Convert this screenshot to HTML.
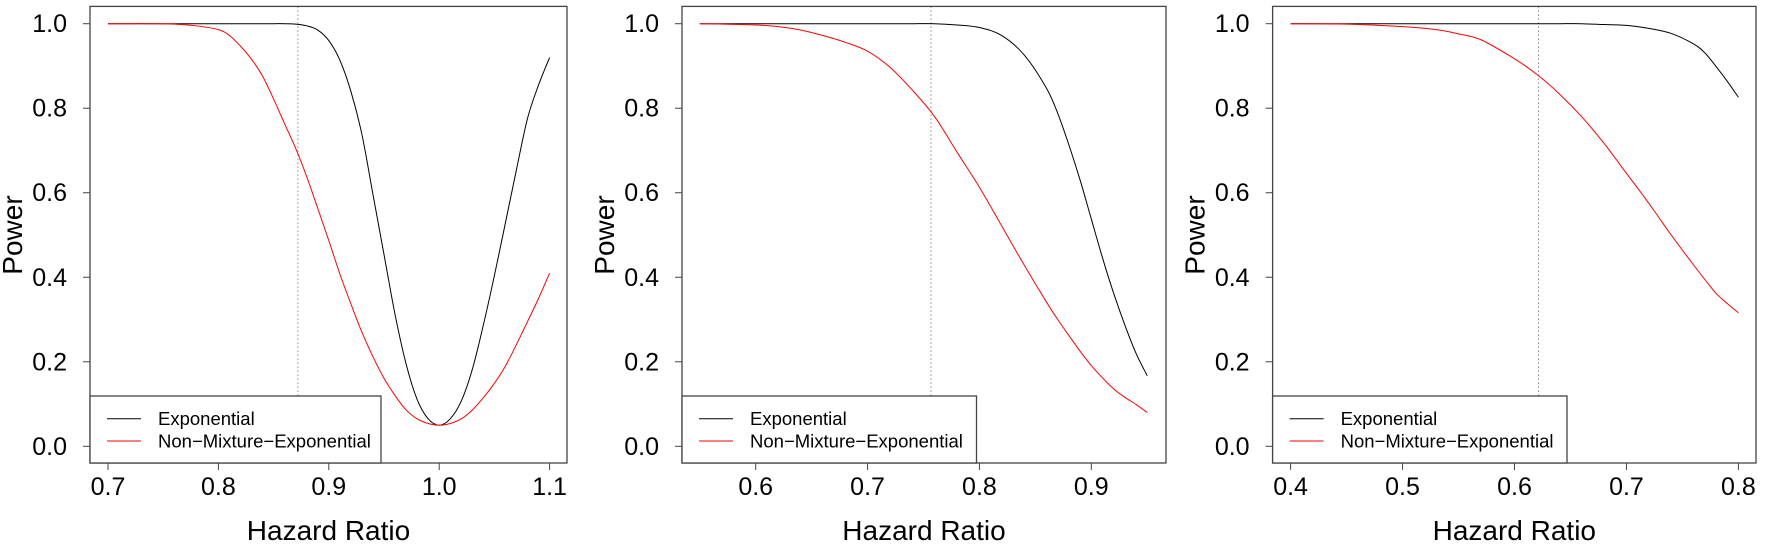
<!DOCTYPE html>
<html><head><meta charset="utf-8"><style>
body{margin:0;background:#fff;}
svg{display:block;font-family:"Liberation Sans",Arial,sans-serif;}
</style></head><body>
<svg id="c" width="1772" height="552" viewBox="0 0 1772 552" xmlns="http://www.w3.org/2000/svg"></svg>
<script>
// Panel 1 data
const p1X = [0.70,0.72,0.74,0.76,0.78,0.80,0.81,0.82,0.83,0.84,0.85,0.86,0.87,0.88,0.89,0.90,0.91,0.92,0.93,0.94,0.95,0.96,0.97,0.98,0.99,1.00,1.01,1.02,1.03,1.04,1.05,1.06,1.07,1.08,1.09,1.10];
const p1Exp = [1,1,1,1,1,1,1,1,1,1,1,1,0.999,0.995,0.985,0.96,0.914,0.84,0.738,0.596,0.454,0.312,0.195,0.111,0.065,0.05,0.065,0.107,0.182,0.287,0.404,0.529,0.655,0.776,0.855,0.92];
const p1Nme = [1,1,1,0.999,0.995,0.986,0.972,0.947,0.916,0.876,0.822,0.763,0.705,0.638,0.563,0.487,0.408,0.337,0.27,0.212,0.161,0.12,0.086,0.065,0.054,0.05,0.054,0.065,0.086,0.115,0.149,0.19,0.241,0.295,0.35,0.41];
const p1Ticks = ["0.7","0.8","0.9","1.0","1.1"];
const p1TickVals = [0.7,0.8,0.9,1.0,1.1];
const p1Ref = 0.872;
// Panel 2 data
const p2X = [0.55,0.60,0.62,0.64,0.66,0.68,0.70,0.72,0.74,0.76,0.78,0.80,0.82,0.84,0.86,0.87,0.88,0.89,0.90,0.91,0.92,0.93,0.94,0.95];
const p2Exp = [1,1,1,1,1,1,1,1,1,1,0.997,0.991,0.972,0.926,0.847,0.788,0.713,0.63,0.538,0.446,0.362,0.287,0.22,0.167];
const p2Nme = [1,0.997,0.993,0.985,0.972,0.956,0.935,0.897,0.843,0.78,0.696,0.613,0.521,0.429,0.341,0.30,0.262,0.225,0.191,0.162,0.136,0.116,0.099,0.08];
const p2Ticks = ["0.6","0.7","0.8","0.9"];
const p2TickVals = [0.6,0.7,0.8,0.9];
const p2Ref = 0.7567;
// Panel 3 data
const p3X = [0.40,0.45,0.50,0.53,0.55,0.57,0.60,0.62,0.64,0.66,0.68,0.70,0.72,0.74,0.76,0.77,0.78,0.79,0.80];
const p3Exp = [1,1,1,1,1,1,1,1,1,1,0.998,0.996,0.989,0.977,0.952,0.931,0.899,0.864,0.826];
const p3Nme = [1,0.999,0.993,0.986,0.976,0.962,0.917,0.88,0.834,0.78,0.717,0.646,0.575,0.5,0.429,0.395,0.362,0.338,0.316];
const p3Ticks = ["0.4","0.5","0.6","0.7","0.8"];
const p3TickVals = [0.4,0.5,0.6,0.7,0.8];
const p3Ref = 0.6215;
const yTicks = ["0.0","0.2","0.4","0.6","0.8","1.0"];
const yTickVals = [0,0.2,0.4,0.6,0.8,1.0];

const NS="http://www.w3.org/2000/svg";
const svg=document.getElementById('c');
function mk(tag,attrs,parent){const e=document.createElementNS(NS,tag);for(const k in attrs)e.setAttribute(k,attrs[k]);(parent||svg).appendChild(e);return e;}
function smooth(pts){
 let d='M'+pts[0][0]+','+pts[0][1];
 for(let i=0;i<pts.length-1;i++){
  const p0=pts[i-1]||pts[i],p1=pts[i],p2=pts[i+1],p3=pts[i+2]||p2;
  const c1=[p1[0]+(p2[0]-p0[0])/6,p1[1]+(p2[1]-p0[1])/6];
  const c2=[p2[0]-(p3[0]-p1[0])/6,p2[1]-(p3[1]-p1[1])/6];
  d+=` C${c1[0]},${c1[1]} ${c2[0]},${c2[1]} ${p2[0]},${p2[1]}`;
 }
 return d;
}

const panels=[
 {x:p1X,e:p1Exp,n:p1Nme,t:p1Ticks,tv:p1TickVals,ref:p1Ref,L:90,R:567,x0:0.7,x1:1.1,px0:108,px1:549.6,legR:381},
 {x:p2X,e:p2Exp,n:p2Nme,t:p2Ticks,tv:p2TickVals,ref:p2Ref,L:682,R:1166,x0:0.6,x1:0.9,px0:755.7,px1:1091.3,legR:976.5},
 {x:p3X,e:p3Exp,n:p3Nme,t:p3Ticks,tv:p3TickVals,ref:p3Ref,L:1272.6,R:1756,x0:0.4,x1:0.8,px0:1290.6,px1:1738.4,legR:1567}
];
const TOP=6.4,BOT=463,Y1=23.7,Y0=446.3;
const sy=v=>Y0+(Y1-Y0)*v;
panels.forEach((p,i)=>{
 const g=mk('g',{});
 
 
 const sx=v=>p.px0+(v-p.x0)/(p.x1-p.x0)*(p.px1-p.px0);
 const rl=mk('line',{x1:sx(p.ref),x2:sx(p.ref),y1:TOP,y2:396,stroke:'#888','stroke-width':1,'stroke-dasharray':'1.5,2.5'},g);
 
 
 const pe=mk('path',{d:smooth(p.x.map((v,j)=>[sx(v),sy(p.e[j])])),fill:'none',stroke:'#000','stroke-width':1},g);
 
 
 const pn=mk('path',{d:smooth(p.x.map((v,j)=>[sx(v),sy(p.n[j])])),fill:'none',stroke:'#f00','stroke-width':1},g);
 
 
 const bx=mk('rect',{x:p.L,y:TOP,width:p.R-p.L,height:BOT-TOP,fill:'none',stroke:'#444','stroke-width':1.3},g);
 
 
 yTickVals.forEach((v,j)=>{
  mk('line',{x1:p.L-7,x2:p.L,y1:sy(v),y2:sy(v),stroke:'#444','stroke-width':1},g);
  const t=mk('text',{x:p.L-23,y:sy(v)+8.5,'text-anchor':'end','font-size':25,fill:'#000'},g);
  t.textContent=yTicks[j];
  
  
 });
 p.tv.forEach((v,j)=>{
  mk('line',{x1:sx(v),x2:sx(v),y1:BOT,y2:BOT+7,stroke:'#444','stroke-width':1},g);
  const t=mk('text',{x:sx(v),y:495,'text-anchor':'middle','font-size':25,fill:'#000'},g);
  t.textContent=p.t[j];
  
  
 });
 const xt=mk('text',{x:(p.L+p.R)/2,y:540,'text-anchor':'middle','font-size':28,fill:'#000'},g);
 xt.textContent='Hazard Ratio';
 
 
 const yt=mk('text',{x:0,y:0,'text-anchor':'middle','font-size':28,fill:'#000',transform:`translate(${p.L-68},235) rotate(-90)`},g);
 yt.textContent='Power';
 
 
 const lg=mk('g',{},g);
 
 
 mk('rect',{x:p.L,y:396,width:p.legR-p.L,height:BOT-396,fill:'#fff',stroke:'#444','stroke-width':1.3},lg);
 const names=['Exponential','Non\u2212Mixture\u2212Exponential'],cols=['#000','#f00'],ys=[418.7,441];
 for(let k=0;k<2;k++){
  mk('line',{x1:p.L+17,x2:p.L+51,y1:ys[k],y2:ys[k],stroke:cols[k],'stroke-width':1},lg);
  const t=mk('text',{x:p.L+68,y:ys[k]+6.5,'font-size':18.5,fill:'#000'},lg);
  t.textContent=names[k];
  
  
 }
});
</script>
</body></html>
